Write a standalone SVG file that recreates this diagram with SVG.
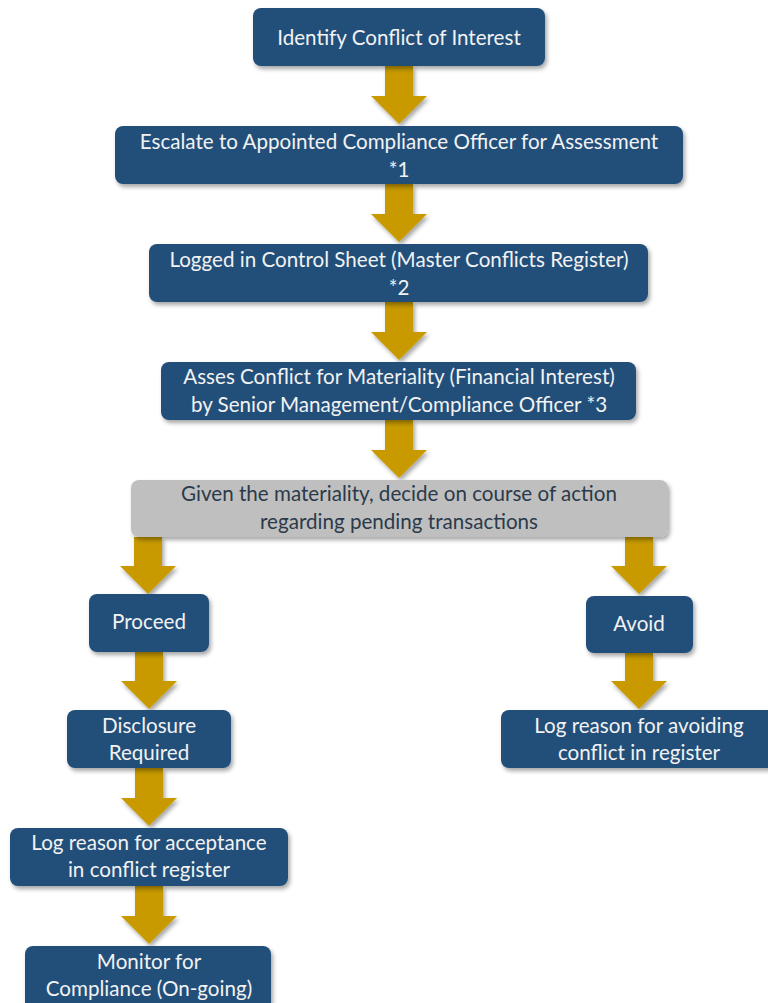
<svg xmlns="http://www.w3.org/2000/svg" width="768" height="1003" viewBox="0 0 768 1003">
<defs>
<filter id="sh" x="-10%" y="-20%" width="120%" height="150%">
<feDropShadow dx="2" dy="3" stdDeviation="2" flood-color="#000" flood-opacity="0.35"/>
</filter>
<style>
.box{fill:#20507A;filter:url(#sh)}
.grey{fill:#BFBFBF;filter:url(#sh)}
.t{font-family:Lato,"Open Sans",sans-serif;font-size:20.6px;fill:#F2F2F2;text-anchor:middle}
.d{font-family:Lato,"Open Sans",sans-serif;font-size:20.6px;fill:#2B3A4A;text-anchor:middle}
.arr{fill:#C89A00;filter:url(#sh)}
</style>
</defs>
<rect width="768" height="1003" fill="#FFFFFF"/>
<g id="connectors">
<path class="arr" d="M385,66 H413 V96 H427 L399,124 L371,96 H385 Z"/>
<path class="arr" d="M385,184 H413 V214 H427 L399,242 L371,214 H385 Z"/>
<path class="arr" d="M385,302 H413 V332 H427 L399,360 L371,332 H385 Z"/>
<path class="arr" d="M385,420 H413 V450 H427 L399,478 L371,450 H385 Z"/>
<path class="arr" d="M134,537 H162 V566 H176 L148,594 L120,566 H134 Z"/>
<path class="arr" d="M625,537 H653 V566 H667 L639,594 L611,566 H625 Z"/>
<path class="arr" d="M135,652 H163 V681 H177 L149,709 L121,681 H135 Z"/>
<path class="arr" d="M625,653 H653 V681 H667 L639,709 L611,681 H625 Z"/>
<path class="arr" d="M135,768 H163 V798 H177 L149,826 L121,798 H135 Z"/>
<path class="arr" d="M135,886 H163 V916 H177 L149,944 L121,916 H135 Z"/>
</g>
<g id="n1"><rect class="box" x="253" y="8" width="292" height="58" rx="8"/><text class="t" x="399" y="45">Identify Conflict of Interest</text></g>
<g id="n2"><rect class="box" x="115" y="126" width="568" height="58" rx="8"/><text class="t" x="399" y="149">Escalate to Appointed Compliance Officer for Assessment</text><text class="t" x="399" y="177">*1</text></g>
<g id="n3"><rect class="box" x="149" y="244" width="499" height="58" rx="8"/><text class="t" x="399" y="267">Logged in Control Sheet (Master Conflicts Register)</text><text class="t" x="399" y="295">*2</text></g>
<g id="n4"><rect class="box" x="161" y="362" width="475" height="58" rx="8"/><text class="t" x="399" y="384">Asses Conflict for Materiality (Financial Interest)</text><text class="t" x="399" y="412">by Senior Management/Compliance Officer *3</text></g>
<g id="n5"><rect class="grey" x="131" y="480" width="537" height="57" rx="8"/><text class="d" x="399" y="501">Given the materiality, decide on course of action</text><text class="d" x="399" y="529">regarding pending transactions</text></g>
<g id="n6"><rect class="box" x="89" y="594" width="120" height="58" rx="8"/><text class="t" x="149" y="629">Proceed</text></g>
<g id="n7"><rect class="box" x="586" y="596" width="107" height="57" rx="8"/><text class="t" x="639" y="631">Avoid</text></g>
<g id="n8"><rect class="box" x="67" y="710" width="164" height="58" rx="8"/><text class="t" x="149" y="733">Disclosure</text><text class="t" x="149" y="760">Required</text></g>
<g id="n9"><rect class="box" x="501" y="710" width="275" height="58" rx="8"/><text class="t" x="639" y="733">Log reason for avoiding</text><text class="t" x="639" y="760">conflict in register</text></g>
<g id="n10"><rect class="box" x="10" y="828" width="278" height="58" rx="8"/><text class="t" x="149" y="850">Log reason for acceptance</text><text class="t" x="149" y="877">in conflict register</text></g>
<g id="n11"><rect class="box" x="25" y="946" width="246" height="66" rx="8"/><text class="t" x="149" y="969">Monitor for</text><text class="t" x="149" y="996">Compliance (On-going)</text></g>
</svg>
